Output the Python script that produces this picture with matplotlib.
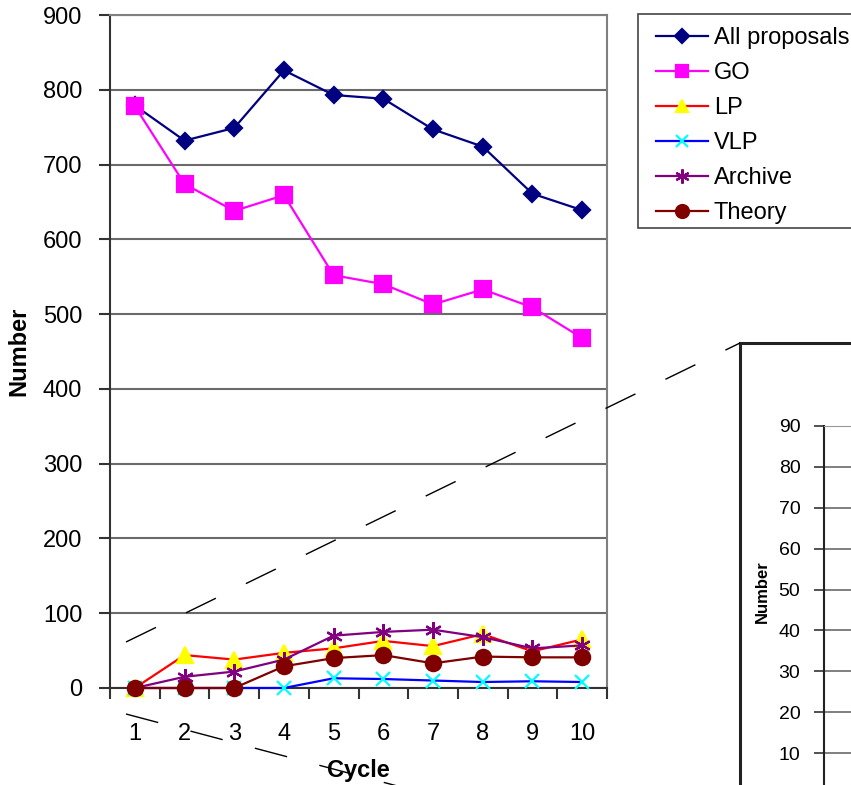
import matplotlib
matplotlib.use('Agg')
import matplotlib.pyplot as plt
from matplotlib.patches import Rectangle
from matplotlib.lines import Line2D

plt.rcParams['font.family'] = ['Liberation Sans', 'DejaVu Sans']

cycles = [1, 2, 3, 4, 5, 6, 7, 8, 9, 10]
all_proposals = [779, 732, 749, 826, 793, 788, 747, 724, 661, 639]
go = [778, 674, 638, 659, 552, 540, 513, 533, 509, 468]
lp = [0, 44, 38, 47, 53, 63, 56, 72, 49, 65]
vlp = [0, 0, 0, 0, 13, 12, 10, 8, 9, 8]
archive = [0, 15, 22, 38, 70, 75, 78, 68, 53, 57]
theory = [0, 0, 0, 29, 40, 44, 33, 42, 41, 41]

main_ticks = [0, 100, 200, 300, 400, 500, 600, 700, 800, 900]
inset_ticks = [10, 20, 30, 40, 50, 60, 70, 80, 90]

W, H = 851, 785
fig = plt.figure(figsize=(W / 100, H / 100), dpi=100)

def fx(px):
    return px / W

def fy(py):
    return 1 - py / H

grid_c = '#6a6a6a'

# main chart
ax = fig.add_axes([fx(110), fy(688), fx(607) - fx(110), fy(15) - fy(688)])
series = [
    ('All proposals', all_proposals, '#000080', 'D', '#000080', 8),
    ('GO', go, '#ff00ff', 's', '#ff00ff', 11),
    ('LP', lp, '#ff0000', '^', '#ffff00', 11),
    ('VLP', vlp, '#0000ff', 'x', '#00ffff', 10),
    ('Archive', archive, '#800080', (6, 2, 0), '#800080', 12),
    ('Theory', theory, '#800000', 'o', '#800000', 11),
]
handles = []
for name, vals, lc, mk, mc, ms in series:
    h, = ax.plot(cycles, vals, color=lc, lw=1.6, marker=mk, ms=ms,
                 mfc=mc, mec=mc, mew=1.6, label=name, clip_on=False, zorder=3)
    handles.append(h)

ax.set_xlim(0.5, 10.5)
ax.set_ylim(0, 900)
ax.set_yticks(main_ticks)
ax.set_xticks(cycles)
ax.set_xticks([c - 0.5 for c in cycles] + [10.5], minor=True)
ax.yaxis.grid(True, color=grid_c, lw=1.5)
ax.set_axisbelow(True)
ax.tick_params(axis='y', direction='out', length=8, width=1.5, pad=12,
               labelsize=17, color='#333333')
ax.tick_params(axis='x', which='major', length=0, pad=25, labelsize=17)
ax.tick_params(axis='x', which='minor', direction='out', length=8, width=1.5,
               color='#333333')
for s in ['left', 'bottom']:
    ax.spines[s].set_color('#333333')
    ax.spines[s].set_linewidth(1.5)
for s in ['top', 'right']:
    ax.spines[s].set_color('#808080')
    ax.spines[s].set_linewidth(1.5)
ax.set_xlabel('Cycle', fontsize=17, fontweight='bold', labelpad=10)
ax.set_ylabel('Number', fontsize=17, fontweight='bold')
ax.yaxis.set_label_coords(-(110 - 30) / 497, 0.5)

# legend box runs off the right edge of the page
frame = Rectangle((fx(638), fy(228)), 1.0, fy(14) - fy(228),
                  transform=fig.transFigure, facecolor='white',
                  edgecolor='#444444', lw=1.2, zorder=1)
fig.add_artist(frame)
leg = fig.legend(handles=handles, loc='upper left',
                 bbox_to_anchor=(fx(656), fy(27)), fontsize=17,
                 frameon=False, handlelength=2.2, handletextpad=0.25,
                 labelspacing=0.55, borderpad=0, borderaxespad=0,
                 markerscale=0.85)
leg.set_zorder(2)

# inset box (partly off the page)
box = Rectangle((fx(740), fy(900)), 1.0, fy(343) - fy(900),
                transform=fig.transFigure, facecolor='white',
                edgecolor='#222222', lw=2.2, zorder=0.5)
fig.add_artist(box)

ins = fig.add_axes([fx(824), fy(794), 0.6, fy(426) - fy(794)])
ins.set_zorder(1)
ins.patch.set_alpha(0)
for name, vals, lc, mk, mc, ms in series[2:]:
    ins.plot(cycles, vals, color=lc, lw=1.6, marker=mk, ms=ms,
             mfc=mc, mec=mc, mew=1.6)
ins.set_xlim(0.5, 10.5)
ins.set_ylim(0, 90)
ins.set_yticks(inset_ticks)
ins.set_xticks([])
ins.yaxis.grid(True, color=grid_c, lw=1.2)
ins.set_axisbelow(True)
ins.tick_params(axis='y', direction='out', length=7, width=1.2, pad=10,
                labelsize=14, color='#333333')
ins.spines['left'].set_color('#222222')
ins.spines['left'].set_linewidth(1.5)
ins.spines['top'].set_color('#999999')
for s in ['right', 'bottom']:
    ins.spines[s].set_visible(False)
ins.set_ylabel('Number', fontsize=12, fontweight='bold')
ins.yaxis.set_label_coords(-(824 - 770) / (0.6 * W), (794 - 592) / (794 - 426))

# dashed connector lines
dash = (0, (24, 24))
fig.add_artist(Line2D([fx(126), fx(740)], [fy(642), fy(343)],
                      transform=fig.transFigure, color='black', lw=1,
                      linestyle=dash, zorder=5))
fig.add_artist(Line2D([fx(126), fx(420)], [fy(714), fy(792)],
                      transform=fig.transFigure, color='black', lw=1,
                      linestyle=dash, zorder=5))

fig.savefig('out.png', dpi=100)
